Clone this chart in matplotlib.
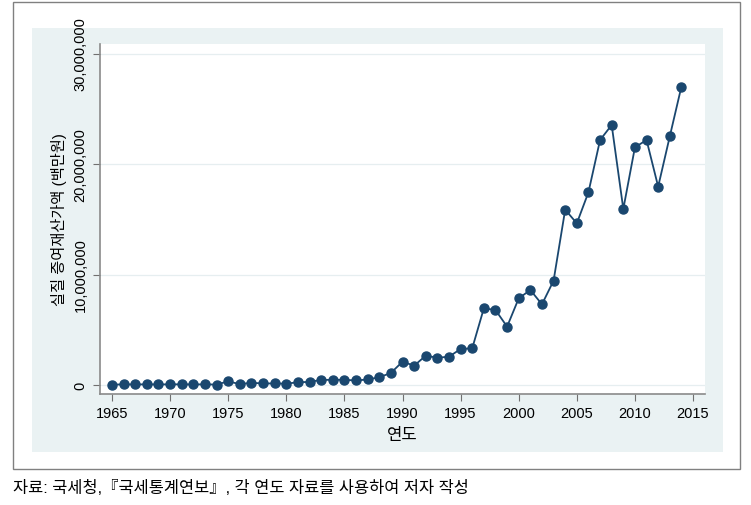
import numpy as np
import matplotlib.pyplot as plt
from matplotlib.patches import Rectangle
from matplotlib.ticker import FuncFormatter

plt.rcParams['font.family'] = ['Liberation Sans', 'Noto Sans CJK KR']

# data (백만원)
years = list(range(1965, 2015))
values = [30000, 60000, 50000, 60000, 50000, 60000, 60000, 50000, 60000, 40000,
          330000, 80000, 200000, 140000, 140000, 120000, 250000, 280000, 460000, 470000,
          470000, 410000, 500000, 700000, 1090000, 2110000, 1750000, 2650000, 2470000, 2560000,
          3260000, 3320000, 6940000, 6790000, 5280000, 7840000, 8600000, 7300000, 9440000, 15870000,
          14630000, 17440000, 22170000, 23530000, 15930000, 21510000, 22170000, 17950000, 22500000, 27000000]

x_ticks = [1965, 1970, 1975, 1980, 1985, 1990, 1995, 2000, 2005, 2010, 2015]
y_ticks = [0, 10000000, 20000000, 30000000]
y_label = "실질 증여재산가액 (백만원)"
x_label = "연도"
caption = "자료: 국세청,『국세통계연보』, 각 연도 자료를 사용하여 저자 작성"

W, H = 751, 506
fig = plt.figure(figsize=(W / 100, H / 100), dpi=100)

def box(x0, y0, x1, y1):
    # pixel box -> figure fraction
    return (x0 / W, 1 - y1 / H, (x1 - x0) / W, (y1 - y0) / H)

# outer frame and light panel (drawn behind the axes)
x, y, w, h = box(13, 3, 740, 470)
fig.patches.append(Rectangle((x, y), w, h, transform=fig.transFigure,
                             facecolor='white', edgecolor='#808080', lw=1.0, zorder=-10))
x, y, w, h = box(32, 29, 723, 453)
fig.patches.append(Rectangle((x, y), w, h, transform=fig.transFigure,
                             facecolor='#EAF2F3', edgecolor='none', zorder=-9))

ax = fig.add_axes(box(100, 45, 705, 395))
ax.set_zorder(1)
ax.set_facecolor('white')

ax.plot(years, values, color='#1A476F', lw=1.3, marker='o', markersize=6.5,
        markeredgecolor='#1A476F', zorder=3, clip_on=False)

ax.set_xlim(1963.97, 2016.03)
ax.set_ylim(-814000, 30860000)
ax.set_xticks(x_ticks)
ax.set_yticks(y_ticks)
ax.yaxis.set_major_formatter(FuncFormatter(lambda v, p: f"{int(v):,}"))
plt.setp(ax.get_yticklabels(), rotation=90, va='center')

ax.grid(axis='y', color='#E6EEF0', lw=0.9)
ax.set_axisbelow(True)
for s in ['top', 'right']:
    ax.spines[s].set_visible(False)
for s in ['left', 'bottom']:
    ax.spines[s].set_color('#8a8a8a')
    ax.spines[s].set_linewidth(1.2)
ax.tick_params(axis='both', direction='out', length=5, width=0.8, color='#707070',
               labelsize=10.5, labelcolor='black', pad=4)

ax.set_xlabel(x_label, fontsize=12, labelpad=5)
ax.set_ylabel(y_label, fontsize=11, labelpad=5)

fig.text(13 / W, 1 - 488 / H, caption, fontsize=11.8, va='center', ha='left')

fig.savefig('out.png', dpi=100)
